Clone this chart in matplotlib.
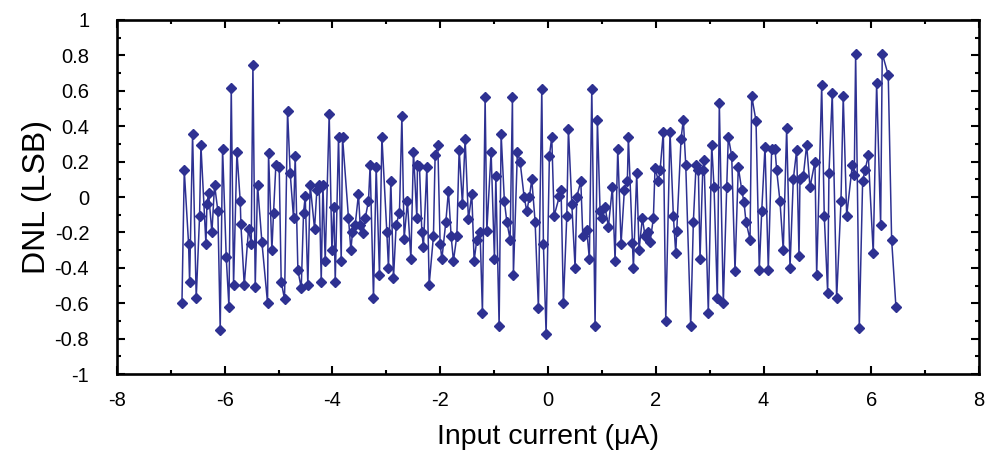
import matplotlib
matplotlib.use('Agg')
from matplotlib import pyplot as plt
from matplotlib.ticker import MultipleLocator

plt.rcParams['font.family'] = ['Liberation Sans', 'DejaVu Sans']

# input current (uA) and DNL (LSB) left to right
current = [
    -6.794, -6.751, -6.671, -6.652, -6.597, -6.529, -6.467, -6.442, -6.349, -6.330,
    -6.300, -6.238, -6.189, -6.127, -6.084, -6.040, -5.972, -5.922, -5.879, -5.836,
    -5.774, -5.712, -5.700, -5.638, -5.558, -5.508, -5.477, -5.434, -5.391,
    -5.310, -5.205, -5.187, -5.125, -5.094, -5.051, -4.989, -4.952, -4.890, -4.834,
    -4.785, -4.723, -4.692, -4.642, -4.580, -4.537, -4.506, -4.457, -4.414, -4.333,
    -4.290, -4.247, -4.209, -4.178, -4.135, -4.061, -4.011, -3.974, -3.949, -3.888,
    -3.838, -3.814,
    -3.703, -3.659, -3.629, -3.579, -3.518, -3.486, -3.436, -3.393, -3.332, -3.301,
    -3.239, -3.189, -3.128, -3.083, -2.991, -2.961, -2.917, -2.868, -2.818, -2.757,
    -2.712, -2.670, -2.609, -2.545, -2.497, -2.434, -2.423, -2.386, -2.341, -2.312,
    -2.249, -2.206,
    -2.126, -2.095, -2.045, -2.002, -1.970, -1.896, -1.848, -1.798, -1.755, -1.692,
    -1.649, -1.588, -1.538, -1.477, -1.414, -1.371, -1.321, -1.260, -1.217, -1.167,
    -1.135, -1.056, -0.994, -0.968, -0.907, -0.870, -0.809, -0.764, -0.703, -0.660,
    -0.642,
    -0.568, -0.518, -0.443, -0.393, -0.345, -0.301, -0.239, -0.178, -0.115, -0.085,
    -0.035, 0.026, 0.070, 0.113, 0.212, 0.243, 0.286, 0.349, 0.379, 0.442,
    0.503, 0.534, 0.609, 0.646, 0.720, 0.768, 0.813, 0.874, 0.917,
    0.967, 1.010, 1.059, 1.121, 1.195, 1.245, 1.295, 1.356, 1.418, 1.473,
    1.492, 1.566, 1.585, 1.647, 1.690, 1.751, 1.802, 1.852, 1.894, 1.956,
    1.987, 2.048, 2.080, 2.141, 2.186, 2.265, 2.327, 2.371, 2.390, 2.470,
    2.512,
    2.557, 2.649, 2.698, 2.748, 2.791, 2.822, 2.872, 2.896, 2.976, 3.039,
    3.082, 3.143, 3.180, 3.254, 3.317, 3.347, 3.410, 3.471, 3.532, 3.596,
    3.638, 3.675, 3.750, 3.781, 3.861, 3.922, 3.967, 4.028, 4.089,
    4.152, 4.213, 4.245, 4.306, 4.367, 4.430, 4.492, 4.553, 4.616, 4.659,
    4.677, 4.738, 4.801, 4.863, 4.955, 4.987, 5.080, 5.128, 5.191, 5.215,
    5.276, 5.358, 5.438, 5.480, 5.544, 5.648,
    5.685, 5.710, 5.778, 5.840, 5.883, 5.945, 6.037, 6.100, 6.174, 6.204,
    6.315, 6.378, 6.458,
]

dnl = [
    -0.60, 0.15, -0.265, -0.48, 0.357, -0.571, -0.107, 0.292, -0.265, -0.04,
    0.023, -0.20, 0.07, -0.08, -0.75, 0.274, -0.34, -0.62, 0.617, -0.497,
    0.255, -0.025, -0.153, -0.497, -0.18, -0.265, 0.747, -0.506, 0.07,
    -0.255, -0.60, 0.25, -0.30, -0.088, 0.18, 0.17, -0.478, -0.577, 0.487,
    0.135, -0.12, 0.232, -0.413, -0.515, -0.088, 0.005, -0.497, 0.07, -0.18,
    0.04, 0.07, -0.478, 0.07, -0.36, 0.469, -0.30, -0.057, -0.478, 0.34,
    -0.36, 0.34,
    -0.12, -0.30, -0.20, -0.16, 0.016, -0.16, -0.205, -0.12, -0.023, 0.18,
    -0.571, 0.17, -0.44, 0.34, -0.20, -0.40, 0.093, -0.46, -0.157, -0.088,
    0.456, -0.235, -0.025, -0.35, 0.255, -0.12, 0.18, 0.175, -0.20, -0.28,
    0.17, -0.497,
    -0.22, 0.235, 0.295, -0.265, -0.35, -0.14, 0.035, -0.22, -0.36, -0.22,
    0.267, -0.04, 0.33, -0.126, 0.016, -0.36, -0.24, -0.20, -0.655, 0.565,
    -0.19, 0.255, -0.35, 0.116, -0.73, 0.357, -0.025, -0.14, -0.24, 0.565,
    -0.44,
    0.255, 0.20, 0.0, -0.08, 0.0, 0.10, -0.14, -0.627, 0.612, -0.265,
    -0.775, 0.232, 0.34, -0.107, 0.005, 0.04, -0.60, -0.107, 0.385, -0.04,
    -0.40, 0.0, 0.09, -0.22, -0.187, -0.35, 0.612, -0.73, 0.437,
    -0.08, -0.12, -0.057, -0.167, 0.055, -0.36, 0.274, -0.265, 0.04, 0.09,
    0.34, -0.26, -0.40, 0.135, -0.30, -0.12, -0.22, -0.195, -0.255, -0.12,
    0.166, 0.09, 0.15, 0.37, -0.70, 0.37, -0.107, -0.317, -0.19, 0.33,
    0.437,
    0.18, -0.73, -0.14, 0.18, 0.15, -0.35, 0.15, 0.21, -0.655, 0.295,
    0.055, -0.571, 0.53, -0.60, 0.055, 0.34, 0.232, -0.417, 0.17, 0.04,
    -0.03, -0.14, -0.24, 0.57, 0.43, -0.41, -0.08, 0.285, -0.41,
    0.274, 0.274, 0.15, -0.025, -0.30, 0.39, -0.40, 0.10, 0.267, -0.335,
    0.10, 0.116, 0.295, 0.055, 0.20, -0.44, 0.63, -0.107, -0.54, 0.135,
    0.585, -0.571, -0.025, 0.57, -0.107, 0.18,
    0.125, 0.81, -0.74, 0.09, 0.15, 0.235, -0.317, 0.645, -0.157, 0.81,
    0.69, -0.24, -0.62,
]

fig = plt.figure(figsize=(9.88, 4.54), dpi=100)
ax = fig.add_axes([0.1184, 0.176, 0.8725, 0.780])

ax.plot(current, dnl, color='#2E3192', lw=1.1, marker='D', ms=5.2,
        mec='#2E3192', mfc='#2E3192')

ax.set_xlim(-8, 8)
ax.set_ylim(-1, 1)
ax.xaxis.set_major_locator(MultipleLocator(2))
ax.xaxis.set_minor_locator(MultipleLocator(1))
ax.yaxis.set_major_locator(MultipleLocator(0.2))
ax.yaxis.set_minor_locator(MultipleLocator(0.1))
ax.xaxis.set_major_formatter(plt.FuncFormatter(lambda v, p: '%g' % v))
ax.yaxis.set_major_formatter(plt.FuncFormatter(lambda v, p: '%g' % round(v, 1)))

ax.tick_params(which='both', direction='in', top=True, right=True,
               width=1.5, labelsize=14.5)
ax.tick_params(axis='y', which='major', length=5.5, pad=20)
ax.tick_params(axis='x', which='major', length=5.5, pad=12)
ax.tick_params(which='minor', length=3)
for s in ax.spines.values():
    s.set_linewidth(1.9)

ax.set_xlabel('Input current (\u03bcA)', fontsize=20.5, labelpad=10)
ax.set_ylabel('DNL (LSB)', fontsize=23, labelpad=2)

fig.savefig('out.png', dpi=100)
